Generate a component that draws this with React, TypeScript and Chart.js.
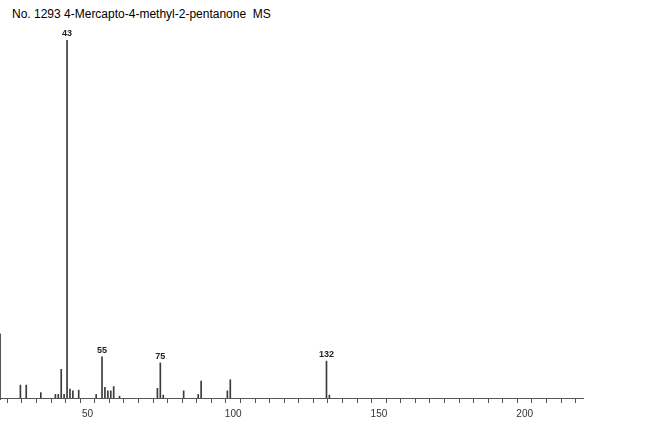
import React, { useEffect, useRef } from 'react';
import Chart from 'chart.js/auto';

// m/z values and relative intensities (%)
const mz = [27, 29, 34, 39, 40, 41, 42, 43, 44, 45, 47, 53, 55, 56, 57, 58, 59, 61, 74, 75, 76, 83, 88, 89, 98, 99, 132, 133];
const intensity = [3.6, 3.6, 1.5, 1.0, 1.0, 8.0, 1.0, 100, 2.5, 2.0, 2.2, 1.0, 11.5, 3.0, 2.0, 2.0, 3.2, 0.5, 2.7, 9.8, 0.8, 2.0, 1.0, 4.7, 2.0, 5.1, 10.3, 0.8];
const labelledPeaks = [43, 55, 75, 132];
const xTickLabels = [50, 100, 150, 200];
const title = 'No. 1293 4-Mercapto-4-methyl-2-pentanone  MS';

const peakLabels = {
  id: 'peakLabels',
  afterDatasetsDraw(chart: any) {
    const ctx = chart.ctx;
    const meta = chart.getDatasetMeta(0);
    ctx.save();
    ctx.font = 'bold 9px "Liberation Sans", Arial, sans-serif';
    ctx.fillStyle = '#222';
    ctx.textAlign = 'center';
    ctx.textBaseline = 'bottom';
    mz.forEach((m, i) => {
      if (!labelledPeaks.includes(m)) return;
      const el = meta.data[i];
      ctx.fillText(String(m), el.x, el.y - 2);
    });
    // short left edge line
    const area = chart.chartArea;
    const yTop = chart.scales.y.getPixelForValue(18);
    ctx.strokeStyle = '#555';
    ctx.lineWidth = 1;
    ctx.beginPath();
    ctx.moveTo(Math.max(area.left, 0) + 0.5, yTop);
    ctx.lineTo(Math.max(area.left, 0) + 0.5, area.bottom + 2);
    ctx.stroke();
    ctx.restore();
  },
};

const App = () => {
  const chartRef = useRef<HTMLCanvasElement>(null);
  const chartInstanceRef = useRef<Chart | null>(null);

  useEffect(() => {
    const ctx = chartRef.current?.getContext('2d');
    if (chartInstanceRef.current) {
      chartInstanceRef.current.destroy();
    }
    if (ctx) {
      chartInstanceRef.current = new Chart(ctx, {
        type: 'bar',
        data: {
          datasets: [{
            data: mz.map((m, i) => ({ x: m, y: intensity[i] })),
            backgroundColor: '#3a3a3a',
            borderWidth: 0,
            barThickness: 1,
            grouped: false,
          } as any],
        },
        options: {
          responsive: true,
          maintainAspectRatio: false,
          animation: false,
          layout: { padding: { left: 0, right: 67, top: 40, bottom: 16 } },
          plugins: {
            legend: { display: false },
            tooltip: { enabled: false },
          },
          scales: {
            x: {
              type: 'linear',
              min: 20,
              max: 220,
              offset: false,
              afterFit: (scale: any) => {
                scale.paddingLeft = 0;
                scale.paddingRight = 0;
              },
              border: { display: true, color: '#555', width: 1 },
              grid: {
                display: true,
                drawOnChartArea: false,
                drawTicks: true,
                tickLength: 5,
                color: '#555',
              },
              ticks: {
                stepSize: 5,
                autoSkip: false,
                maxRotation: 0,
                padding: 5,
                color: '#333',
                font: { size: 10, family: '"Liberation Sans", Arial, sans-serif' },
                callback: (v: any) => (xTickLabels.includes(Number(v)) ? String(v) : ''),
              },
            },
            y: {
              display: false,
              min: 0,
              max: 100,
            },
          },
        },
        plugins: [peakLabels],
      });
    }
    return () => {
      if (chartInstanceRef.current) {
        chartInstanceRef.current.destroy();
      }
    };
  }, []);

  return (
    <div style={{ position: 'absolute', left: 0, top: 0, width: '650px', height: '441px', background: '#fff' }}>
      <div
        style={{
          position: 'absolute',
          left: '12px',
          top: '7px',
          fontFamily: '"Liberation Sans", Arial, sans-serif',
          fontSize: '12px',
          color: '#000',
          whiteSpace: 'pre',
        }}
      >
        {title}
      </div>
      <div style={{ position: 'absolute', left: 0, top: 0, width: '650px', height: '441px' }}>
        <canvas ref={chartRef} />
      </div>
    </div>
  );
};

export default App;
